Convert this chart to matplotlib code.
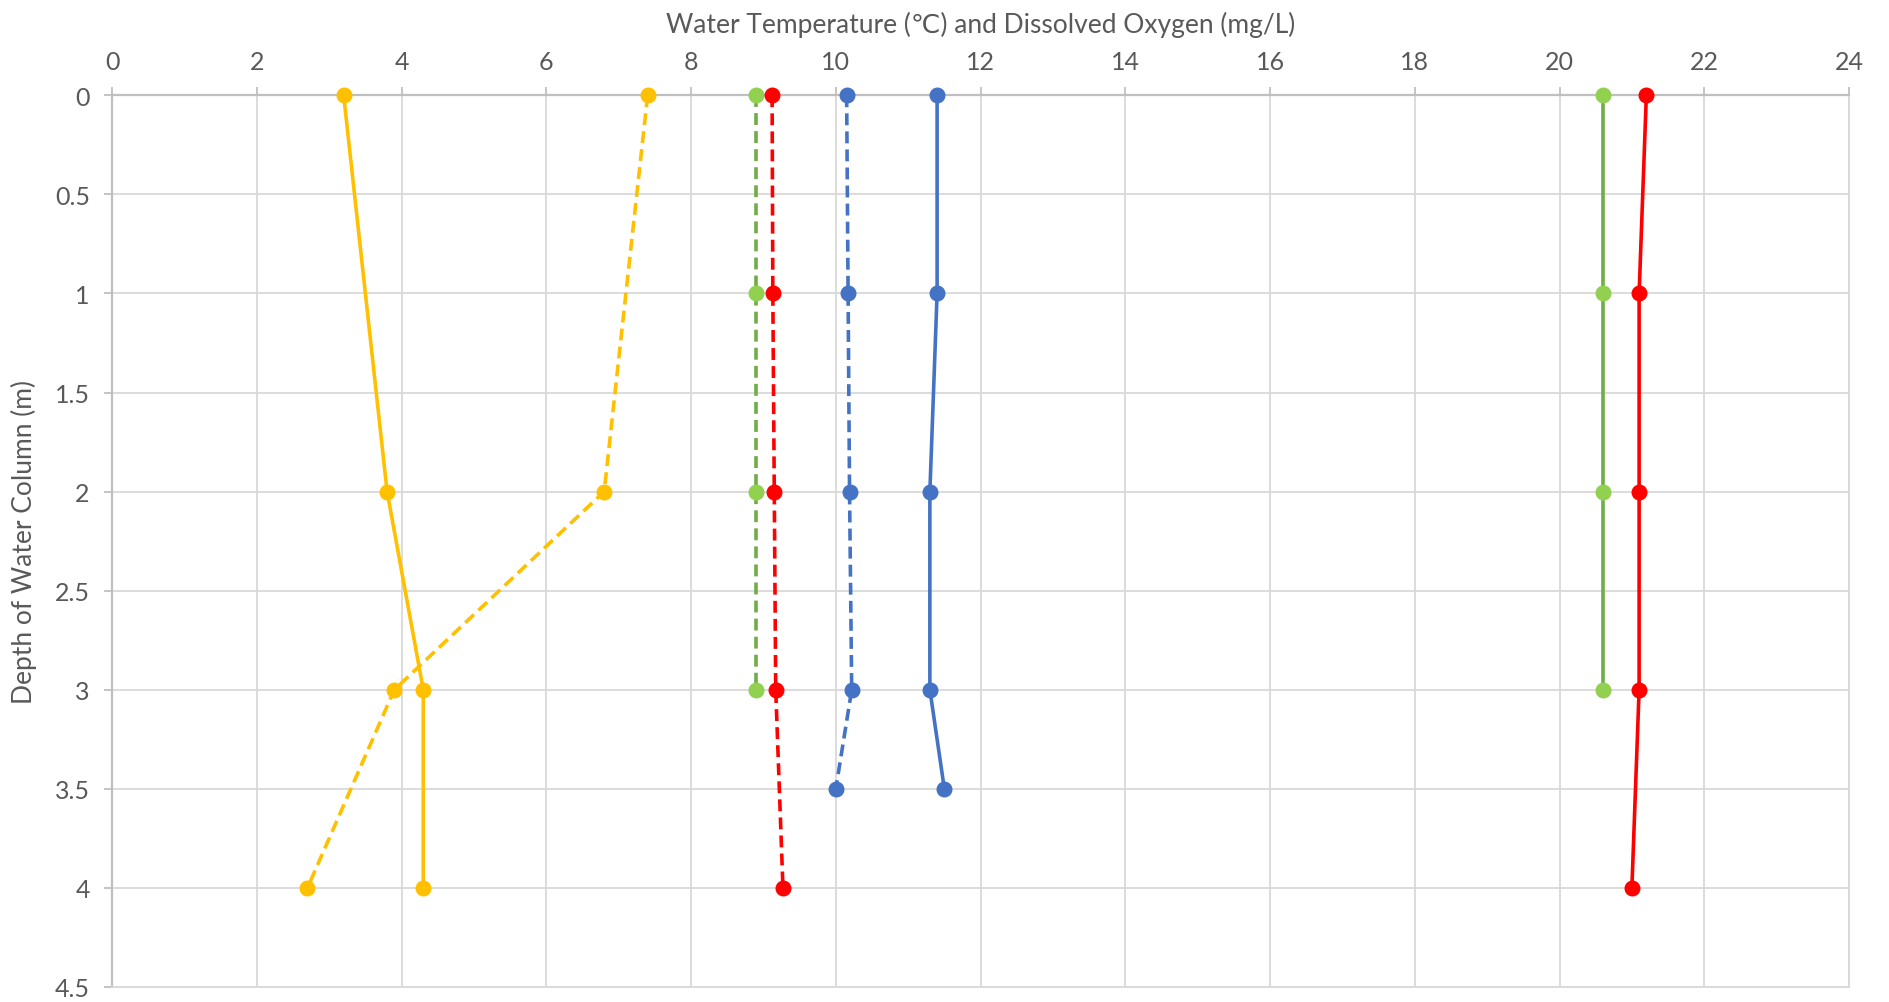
import matplotlib
matplotlib.use("Agg")
import matplotlib.pyplot as plt
from matplotlib.ticker import FuncFormatter

plt.rcParams['font.family'] = ['Lato', 'DejaVu Sans']

# ---- data ----
x_ticks = list(range(0, 25, 2))
y_ticks = [0, 0.5, 1, 1.5, 2, 2.5, 3, 3.5, 4, 4.5]

yellow_solid_depth = [0, 2, 3, 4]
yellow_solid_vals = [3.2, 3.8, 4.3, 4.3]

yellow_dashed_depth = [0, 2, 3, 4]
yellow_dashed_vals = [7.4, 6.8, 3.9, 2.7]

green_dashed_depth = [0, 1, 2, 3]
green_dashed_vals = [8.9, 8.9, 8.9, 8.9]

red_dashed_depth = [0, 1, 2, 3, 4]
red_dashed_vals = [9.12, 9.13, 9.15, 9.17, 9.27]

blue_dashed_depth = [0, 1, 2, 3, 3.5]
blue_dashed_vals = [10.15, 10.17, 10.19, 10.22, 10.0]

blue_solid_depth = [0, 1, 2, 3, 3.5]
blue_solid_vals = [11.4, 11.4, 11.3, 11.3, 11.5]

green_solid_depth = [0, 1, 2, 3]
green_solid_vals = [20.6, 20.6, 20.6, 20.6]

red_solid_depth = [0, 1, 2, 3, 4]
red_solid_vals = [21.2, 21.1, 21.1, 21.1, 21.0]

x_label = "Water Temperature (\u2103) and Dissolved Oxygen (mg/L)"
y_label = "Depth of Water Column (m)"

# ---- figure ----
fig = plt.figure(figsize=(18.9, 10.03), dpi=100)
ax = fig.add_axes([0.0593, 0.015, 0.9190, 0.889])

YEL = "#FFC000"
BLUE = "#4472C4"
GREEN_L = "#70AD47"
GREEN_M = "#92D050"
RED = "#FF0000"
lw = 2.6
ms = 10.5
dash = (0, (3.3, 1.7))

series = [
    (yellow_solid_vals, yellow_solid_depth, YEL, YEL, '-'),
    (yellow_dashed_vals, yellow_dashed_depth, YEL, YEL, dash),
    (green_dashed_vals, green_dashed_depth, GREEN_L, GREEN_M, dash),
    (red_dashed_vals, red_dashed_depth, RED, RED, dash),
    (blue_dashed_vals, blue_dashed_depth, BLUE, BLUE, dash),
    (blue_solid_vals, blue_solid_depth, BLUE, BLUE, '-'),
    (green_solid_vals, green_solid_depth, GREEN_L, GREEN_M, '-'),
    (red_solid_vals, red_solid_depth, RED, RED, '-'),
]
for xv, yv, lc, mc, ls in series:
    ax.plot(xv, yv, color=lc, linestyle=ls, linewidth=lw, marker='o',
            markersize=ms, markerfacecolor=mc, markeredgecolor=mc, zorder=3,
            clip_on=False)

ax.set_xlim(0, 24)
ax.set_ylim(4.5, 0)
ax.set_xticks(x_ticks)
ax.set_yticks(y_ticks)
ax.yaxis.set_major_formatter(FuncFormatter(lambda v, p: f"{v:g}"))

ax.xaxis.tick_top()
ax.xaxis.set_label_position('top')
ax.grid(True, color="#d9d9d9", linewidth=1.3, zorder=0)
ax.set_axisbelow(True)

for s in ['top', 'left']:
    ax.spines[s].set_color("#bfbfbf")
    ax.spines[s].set_linewidth(1.6)
for s in ['bottom', 'right']:
    ax.spines[s].set_color("#d9d9d9")
    ax.spines[s].set_linewidth(1.3)

ax.tick_params(axis='both', colors="#bfbfbf", length=6, width=1.3,
               labelcolor="#595959", labelsize=18)
ax.tick_params(axis='x', pad=10)
ax.tick_params(axis='y', pad=10)

ax.set_xlabel(x_label, fontsize=19, color="#595959", labelpad=13)
ax.set_ylabel(y_label, fontsize=19, color="#595959", labelpad=13)

fig.savefig("out.png", dpi=100, facecolor="white")
